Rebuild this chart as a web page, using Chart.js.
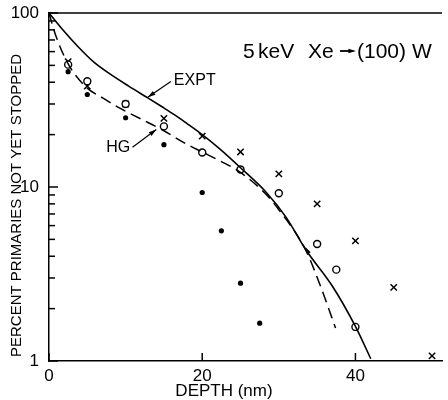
<!DOCTYPE html>
<html>
<head>
<meta charset="utf-8">
<script src="https://cdn.jsdelivr.net/npm/chart.js@4/dist/chart.umd.min.js"></script>
<style>
  html, body { margin: 0; padding: 0; background: #fff; }
  #wrap { width: 448px; height: 400px; }
</style>
</head>
<body>
<div id="wrap"><canvas id="chart"></canvas></div>
<script>
// values (depth in nm, percent not yet stopped)
var filledDepth = [2.5, 5, 10, 15, 20, 22.5, 25, 27.5];
var filledPct   = [46, 34, 25, 17.5, 9.3, 5.6, 2.8, 1.65];

var openDepth = [2.5, 5, 10, 15, 20, 25, 30, 35, 37.5, 40];
var openPct   = [50.5, 40.5, 30, 22.3, 15.8, 12.6, 9.2, 4.7, 3.35, 1.57];

var crossDepth = [2.5, 5, 10, 15, 20, 25, 30, 35, 40, 45, 50];
var crossPct   = [52.5, 38, 30, 24.8, 19.6, 15.9, 11.9, 8.0, 4.9, 2.65, 1.07];

var exptDepth = [0, 1.6, 3.8, 5.9, 8, 10.4, 13, 14.7, 16.5, 18.1, 20, 22.4, 25, 28.4, 31, 33.5, 37, 40, 42];
var exptPct   = [100, 82, 64, 52, 44.5, 38, 32.3, 29, 25.8, 23, 20, 16.4, 12.9, 9.27, 6.65, 4.37, 2.69, 1.58, 1.03];

var hgDepth = [0, 0.8, 2.5, 4.85, 7, 9.5, 12, 14.7, 18.1, 20, 22.5, 24.8, 28.2, 30, 33.5, 35.5, 37.4];
var hgPct   = [100, 76, 51, 37.5, 32.5, 28, 24.6, 21.4, 17.5, 15.9, 14, 12.3, 9.2, 7.4, 4.35, 2.65, 1.55];

var xTicks = [0, 20, 40];
var yTicks = [1, 2, 3, 4, 5, 6, 7, 8, 9, 10, 20, 30, 40, 50, 60, 70, 80, 90, 100];
var yLabels = [1, 10, 100];

function pts(xs, ys) {
    return xs.map(function (x, i) { return { x: x, y: ys[i] }; });
}

var FONT = "'Liberation Sans', Arial, sans-serif";

// frame, inward ticks, titles and labels drawn on top
var extras = {
    id: 'extras',
    afterDraw: function (chart) {
        var ctx = chart.ctx;
        var a = chart.chartArea;
        var xs = chart.scales.x, ys = chart.scales.y;
        ctx.save();
        ctx.strokeStyle = '#000';
        ctx.fillStyle = '#000';
        ctx.setLineDash([]);

        // top frame line
        ctx.lineWidth = 1.5;
        ctx.beginPath();
        ctx.moveTo(a.left, a.top);
        ctx.lineTo(a.right, a.top);
        ctx.stroke();

        // inward y ticks
        ctx.lineWidth = 1.5;
        yTicks.forEach(function (v) {
            var y = ys.getPixelForValue(v);
            var len = yLabels.indexOf(v) >= 0 ? 9 : 6;
            ctx.beginPath();
            ctx.moveTo(a.left, y);
            ctx.lineTo(a.left + len, y);
            ctx.stroke();
        });
        // inward x ticks
        xTicks.forEach(function (v) {
            var x = xs.getPixelForValue(v);
            ctx.beginPath();
            ctx.moveTo(x, a.bottom);
            ctx.lineTo(x, a.bottom - 8);
            ctx.stroke();
        });

        function head(px1, py1, ang, size) {
            ctx.beginPath();
            ctx.moveTo(px1, py1);
            ctx.lineTo(px1 - size * Math.cos(ang - 0.3), py1 - size * Math.sin(ang - 0.3));
            ctx.lineTo(px1 - size * Math.cos(ang + 0.3), py1 - size * Math.sin(ang + 0.3));
            ctx.closePath();
            ctx.fill();
        }
        function arrow(x0, y0, x1, y1) {
            var px0 = xs.getPixelForValue(x0), py0 = ys.getPixelForValue(y0);
            var px1 = xs.getPixelForValue(x1), py1 = ys.getPixelForValue(y1);
            ctx.lineWidth = 1.2;
            ctx.beginPath();
            ctx.moveTo(px0, py0);
            ctx.lineTo(px1, py1);
            ctx.stroke();
            head(px1, py1, Math.atan2(py1 - py0, px1 - px0), 8);
        }

        // EXPT label
        arrow(15.9, 40.4, 12.9, 32.8);
        ctx.font = '16px ' + FONT;
        ctx.textBaseline = 'middle';
        ctx.textAlign = 'left';
        ctx.fillText('EXPT', xs.getPixelForValue(16.3), ys.getPixelForValue(40.8));

        // HG label
        arrow(10.9, 16.9, 14.0, 21.4);
        ctx.textAlign = 'right';
        ctx.fillText('HG', xs.getPixelForValue(10.6), ys.getPixelForValue(16.8));

        // small arrowhead where the curves part
        var ax = xs.getPixelForValue(33.5), ay = ys.getPixelForValue(4.5);
        head(ax, ay, Math.atan2(-1, -0.55), 7);

        // title: 5 keV  Xe -> (100) W
        ctx.font = '21px ' + FONT;
        ctx.textAlign = 'left';
        ctx.textBaseline = 'alphabetic';
        ctx.fillText('5', 243, 58);
        ctx.fillText('keV', 258, 58);
        ctx.fillText('Xe', 308, 58);
        ctx.lineWidth = 1.8;
        ctx.beginPath();
        ctx.moveTo(340, 51);
        ctx.lineTo(350, 51);
        ctx.stroke();
        head(356, 51, 0, 8);
        ctx.fillText('(100)', 357, 58);
        ctx.fillText('W', 412, 58);

        // axis titles
        ctx.font = '17px ' + FONT;
        ctx.textAlign = 'center';
        ctx.textBaseline = 'middle';
        ctx.fillText('DEPTH (nm)', 224, 391);

        ctx.save();
        ctx.translate(17, 357);
        ctx.rotate(-Math.PI / 2);
        ctx.font = '15px ' + FONT;
        ctx.textAlign = 'left';
        ctx.fillText('PERCENT PRIMARIES NOT YET STOPPED', 0, 0);
        ctx.restore();

        ctx.restore();
    }
};

var ctx = document.getElementById('chart').getContext('2d');
var chart = new Chart(ctx, {
    type: 'scatter',
    data: {
        datasets: [
            {
                label: 'EXPT',
                data: pts(exptDepth, exptPct),
                showLine: true,
                borderColor: '#000',
                borderWidth: 1.6,
                pointRadius: 0,
                cubicInterpolationMode: 'monotone'
            },
            {
                label: 'HG',
                data: pts(hgDepth, hgPct),
                showLine: true,
                borderColor: '#000',
                borderWidth: 1.5,
                borderDash: [11, 6],
                pointRadius: 0,
                cubicInterpolationMode: 'monotone'
            },
            {
                label: 'filled',
                data: pts(filledDepth, filledPct),
                pointStyle: 'circle',
                pointRadius: 2.6,
                backgroundColor: '#000',
                borderColor: '#000',
                borderWidth: 0
            },
            {
                label: 'open',
                data: pts(openDepth, openPct),
                pointStyle: 'circle',
                pointRadius: 3.5,
                backgroundColor: '#fff',
                borderColor: '#000',
                borderWidth: 1.4
            },
            {
                label: 'cross',
                data: pts(crossDepth, crossPct),
                pointStyle: 'crossRot',
                pointRadius: 4.5,
                borderColor: '#000',
                borderWidth: 1.5
            }
        ]
    },
    options: {
        responsive: true,
        maintainAspectRatio: false,
        animation: false,
        clip: false,
        layout: { padding: { top: 13, right: 0, left: 0, bottom: 0 } },
        plugins: {
            legend: { display: false },
            tooltip: { enabled: false }
        },
        scales: {
            x: {
                type: 'linear',
                min: 0,
                max: 51.3,
                grid: { display: false, drawTicks: false },
                border: { display: true, color: '#000', width: 1.5 },
                afterBuildTicks: function (s) {
                    s.ticks = xTicks.map(function (v) { return { value: v }; });
                },
                afterFit: function (s) {
                    s.height = 39;
                    s.paddingLeft = 0;
                    s.paddingRight = 0;
                },
                ticks: {
                    padding: 5,
                    color: '#000',
                    font: { family: FONT, size: 17 },
                    maxRotation: 0
                }
            },
            y: {
                type: 'logarithmic',
                min: 1,
                max: 100,
                grid: { display: false, drawTicks: false },
                border: { display: true, color: '#000', width: 1.5 },
                afterBuildTicks: function (s) {
                    s.ticks = yLabels.map(function (v) { return { value: v, major: true }; });
                },
                afterFit: function (s) {
                    s.width = 49;
                    s.paddingTop = 0;
                    s.paddingBottom = 0;
                },
                ticks: {
                    padding: 10,
                    color: '#000',
                    font: { family: FONT, size: 17 },
                    callback: function (v) { return String(v); }
                }
            }
        }
    },
    plugins: [extras]
});
</script>
</body>
</html>
